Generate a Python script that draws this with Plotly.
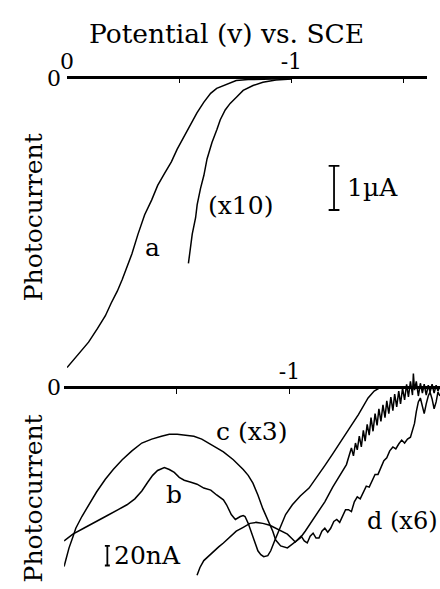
import plotly.graph_objects as go

W, H = 440, 589
FONT = "DejaVu Serif"

# ---------------- data: top panel (photocurrent, µA; potential, V vs SCE) ----------------
a_potential = [0.0, -0.048, -0.096, -0.136, -0.171, -0.197, -0.224, -0.246, -0.268, -0.289,
               -0.316, -0.346, -0.377, -0.404, -0.434, -0.465, -0.491, -0.522, -0.553, -0.579,
               -0.610, -0.640, -0.667, -0.697, -0.728, -0.754, -0.807, -0.873, -1.0]
a_current = [-6.556, -6.267, -5.978, -5.667, -5.378, -5.089, -4.822, -4.556, -4.267, -3.978,
             -3.533, -3.089, -2.756, -2.422, -2.156, -1.889, -1.600, -1.311, -1.044, -0.778,
             -0.533, -0.333, -0.222, -0.156, -0.089, -0.044, -0.022, -0.011, 0.0]

x10_potential = [-0.541, -0.551, -0.558, -0.573, -0.580, -0.595, -0.610, -0.624, -0.646, -0.668,
                 -0.683, -0.705, -0.727, -0.756, -0.785, -0.829, -0.873, -0.931, -1.001]
x10_current = [-4.193, -3.822, -3.527, -3.156, -2.860, -2.489, -2.193, -1.822, -1.451, -1.156,
               -0.933, -0.711, -0.562, -0.416, -0.267, -0.156, -0.082, -0.029, -0.007]

# ---------------- data: bottom panel (photocurrent, nA as plotted) ----------------
b_potential = [0.0, -0.017, -0.039, -0.087, -0.140, -0.192, -0.240, -0.279, -0.314, -0.345,
               -0.371, -0.393, -0.415, -0.432, -0.445, -0.467, -0.489, -0.511, -0.533, -0.563,
               -0.590, -0.620, -0.651, -0.677, -0.707, -0.721, -0.734, -0.742, -0.760, -0.773,
               -0.782, -0.795, -0.803, -0.817, -0.830, -0.838, -0.852, -0.860, -0.873, -0.886,
               -0.904, -0.917, -0.934, -0.956, -0.983, -1.013, -1.048, -1.087, -1.122, -1.157,
               -1.192, -1.231, -1.266, -1.306, -1.328, -1.349, -1.376, -1.406, -1.668]
b_current = [-157, -154, -150, -144, -137, -131, -125, -120, -114, -106,
             -97, -90, -85, -83, -82, -84, -87, -92, -95, -97,
             -99, -103, -105, -110, -115, -120, -126, -130, -135, -133,
             -132, -131, -132, -139, -147, -154, -162, -167, -171, -173,
             -172, -167, -157, -145, -130, -120, -111, -103, -92, -80,
             -68, -55, -42, -28, -19, -11, -4, 0, 0]

c_potential = [0.0, -0.022, -0.039, -0.052, -0.079, -0.109, -0.144, -0.183, -0.218, -0.258,
               -0.301, -0.345, -0.389, -0.432, -0.467, -0.502, -0.537, -0.576, -0.611, -0.651,
               -0.677, -0.707, -0.751, -0.795, -0.817, -0.838, -0.860, -0.882, -0.904, -0.926,
               -0.939, -0.961, -0.991, -1.022, -1.048, -1.070, -1.114, -1.157, -1.192, -1.231,
               -1.253,
               -1.275, -1.284, -1.293, -1.301, -1.310, -1.319, -1.328, -1.336, -1.345, -1.354,
               -1.362, -1.371, -1.380, -1.389, -1.397, -1.406, -1.415, -1.424, -1.432, -1.441,
               -1.450, -1.459, -1.467, -1.476, -1.485, -1.493, -1.502, -1.511, -1.520, -1.528,
               -1.537, -1.546, -1.550, -1.555, -1.563, -1.572, -1.581, -1.590, -1.598, -1.607,
               -1.616, -1.624, -1.633, -1.642, -1.651, -1.659, -1.668]
c_current = [-183, -164, -153, -144, -132, -120, -107, -94, -84, -74,
             -65, -57, -53, -50, -48, -48, -49, -50, -53, -58,
             -62, -66, -74, -84, -90, -98, -110, -124, -135, -147,
             -156, -162, -164, -159, -154, -147, -132, -117, -102, -87,
             -79,
             -62, -70, -57, -64, -50, -61, -44, -55, -38, -49,
             -31, -45, -27, -39, -22, -35, -18, -31, -14, -27,
             -10, -24, -7, -20, -4, -17, -1, -13, 3, -10,
             6, -8, 14, -3, 6, -9, 4, -6, 3, -8,
             2, -5, 3, -6, 2, -4, 1]

d_potential = [-0.590, -0.603, -0.620, -0.642, -0.664, -0.686, -0.707, -0.738, -0.764, -0.795,
               -0.825, -0.852, -0.882, -0.913, -0.939, -0.969, -0.991, -1.013, -1.026,
               -1.039, -1.052, -1.066, -1.079, -1.092, -1.105, -1.118, -1.131, -1.144, -1.157,
               -1.170, -1.183, -1.197, -1.210, -1.223, -1.236, -1.249, -1.262, -1.275, -1.288,
               -1.301, -1.314, -1.328, -1.341, -1.354, -1.367, -1.380, -1.393, -1.406, -1.419,
               -1.432, -1.445, -1.459, -1.472, -1.485, -1.498, -1.511, -1.524, -1.537, -1.546,
               -1.555, -1.563, -1.572, -1.581, -1.590, -1.598, -1.607, -1.616, -1.624, -1.633,
               -1.642, -1.651, -1.659, -1.668]
d_current = [-192, -184, -177, -172, -167, -163, -159, -153, -147, -143,
             -139, -138, -139, -141, -144, -147, -150, -155, -158,
             -155, -152, -157, -159, -152, -149, -154, -154, -147, -144,
             -148, -144, -137, -135, -138, -132, -125, -125, -127, -117,
             -112, -114, -107, -101, -102, -95, -89, -89, -82, -75,
             -72, -65, -61, -63, -58, -54, -57, -53, -51, -45,
             -37, -25, -15, -11, -21, -27, -17, -9, -5, -12,
             -22, -15, -5, -9]

# axis ticks / scale bars (data units)
x_tickvals = [0, -0.5, -1, -1.5]
top_ticktext = ["0", "", "-1", ""]
bottom_ticktext = ["", "", "-1", ""]
scale_top = {"x": -1.19, "y0": -1.98, "y1": -2.98, "cap": 0.024}      # 1 µA
scale_bottom = {"x": -0.192, "y0": -162, "y1": -182, "cap": 0.011}    # 20 nA


def px(x):
    return x / W


def py(y):
    return 1 - y / H


fig = go.Figure()
line = dict(color="black", width=1.5)
fig.add_trace(go.Scatter(x=a_potential, y=a_current, mode="lines", line=line, xaxis="x", yaxis="y"))
fig.add_trace(go.Scatter(x=x10_potential, y=x10_current, mode="lines", line=line, xaxis="x", yaxis="y"))
fig.add_trace(go.Scatter(x=b_potential, y=b_current, mode="lines", line=line, xaxis="x2", yaxis="y2"))
fig.add_trace(go.Scatter(x=c_potential, y=c_current, mode="lines", line=line, xaxis="x2", yaxis="y2"))
fig.add_trace(go.Scatter(x=d_potential, y=d_current, mode="lines", line=line, xaxis="x2", yaxis="y2"))

# scale bars
for s, xr, yr in [(scale_top, "x", "y"), (scale_bottom, "x2", "y2")]:
    fig.add_shape(type="line", xref=xr, yref=yr, x0=s["x"], x1=s["x"], y0=s["y0"], y1=s["y1"],
                  line=dict(color="black", width=1.8))
    for yy in (s["y0"], s["y1"]):
        fig.add_shape(type="line", xref=xr, yref=yr, x0=s["x"] - s["cap"], x1=s["x"] + s["cap"],
                      y0=yy, y1=yy, line=dict(color="black", width=1.8))

tickfont = dict(family=FONT, size=22, color="black")
axis_common = dict(showgrid=False, zeroline=False, color="black")

fig.update_layout(
    width=W, height=H, margin=dict(l=0, r=0, t=0, b=0),
    paper_bgcolor="white", plot_bgcolor="white", showlegend=False,
    xaxis=dict(domain=[px(61), px(427)], range=[0, -(427 - 61) / 228], anchor="y", side="top",
               showline=True, linewidth=2.5, linecolor="black", ticks="inside", ticklen=5,
               tickwidth=1.2, tickcolor="black", tickvals=x_tickvals, ticktext=top_ticktext,
               tickfont=tickfont, ticklabelstandoff=-2, **axis_common),
    yaxis=dict(domain=[py(370), py(68)], range=[-(370 - 68) / 45, 0], anchor="x",
               showline=False, ticks="", tickvals=[0], ticktext=["0"], tickfont=tickfont,
               ticklabelstandoff=5, **axis_common),
    xaxis2=dict(domain=[px(58), 1.0], range=[0, -(440 - 58) / 229], anchor="free", position=py(383),
                side="top", showline=True, linewidth=2.5, linecolor="black", ticks="inside",
                ticklen=5, tickwidth=1.2, tickcolor="black", tickvals=x_tickvals,
                ticktext=bottom_ticktext, tickfont=tickfont, ticklabelstandoff=-1, **axis_common),
    yaxis2=dict(domain=[0, py(365)], range=[-206, 18], anchor="x2",
                showline=False, ticks="", tickvals=[0], ticktext=["0"], tickfont=tickfont,
                ticklabelstandoff=2, **axis_common),
)


def note(text, x, y, xanchor="center", angle=0, size=25):
    fig.add_annotation(text=text, x=px(x), y=py(y), xref="paper", yref="paper",
                       xanchor=xanchor, yanchor="middle", showarrow=False, textangle=angle,
                       font=dict(family=FONT, size=size, color="black"))


note("Potential (v) vs. SCE", 223.5, 22, size=26.5)
note("Photocurrent", 27, 210, angle=-90, size=25)
note("Photocurrent", 27, 497, angle=-90, size=25)
note("a", 148, 240)
note("(x10)", 237, 198)
note("1µA", 343, 179, xanchor="left")
note("c (x3)", 248, 428)
note("b", 170, 493)
note("d (x6)", 364, 520, xanchor="left", size=24)
note("20nA", 107, 555, xanchor="left")

fig.write_html("out.html", config={"displayModeBar": False})
